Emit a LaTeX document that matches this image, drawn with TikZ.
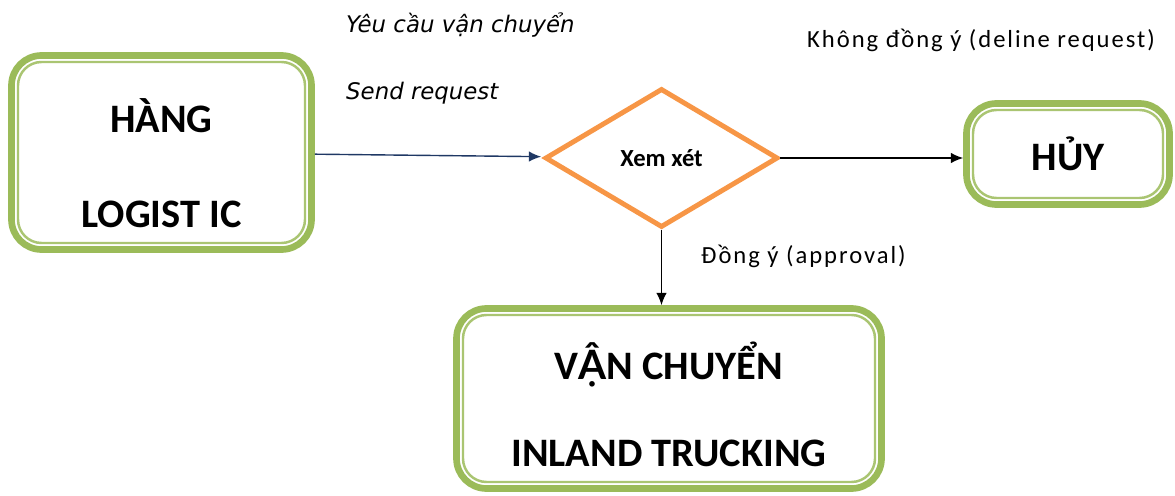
\documentclass[tikz,border=0pt]{standalone}
\usepackage{fontspec}
\setmainfont{Carlito}
\newfontfamily\notefont{DejaVu Sans}
\newfontfamily\answerfont[LetterSpace=8]{Carlito}
\newfontfamily\accentfont{Lato}
\usetikzlibrary{arrows.meta,calc,positioning,shapes.geometric}
\definecolor{boxgreen}{RGB}{155,187,89}
\definecolor{checkorange}{RGB}{247,150,70}
\definecolor{linknavy}{RGB}{31,56,100}
\newcommand{\lineup}[1]{\rule{0pt}{#1}}
\tikzset{%
	stage/.style      = {draw=boxgreen, line width=3.8pt, outer sep=0pt, rounded corners=0.6cm, fill=white, align=center, font=\fontsize{23}{28}\selectfont\bfseries},
	stageinner/.style = {draw=boxgreen!85, line width=1.4pt, rounded corners=0.47cm}, % inner ring
	check/.style      = {draw=checkorange, diamond, line width=2.8pt, inner sep=0pt, minimum width=4.66cm, minimum height=2.78cm, font=\fontsize{14}{16}\selectfont\bfseries},
	arrow/.style      = {-{Latex[length=7pt,width=6pt]}, line width=0.8pt},
	note/.style       = {font=\notefont\itshape\fontsize{13}{15}\selectfont}, % italic label
	answer/.style     = {font=\answerfont\fontsize{14}{16}\selectfont},
}

\begin{document}
\begin{tikzpicture}
	\useasboundingbox (0,0) rectangle (23.5,9.9);
	\node[stage, minimum width=6.0cm, minimum height=3.88cm] (logi) at (3.23,6.85) {\lineup{31pt}HÀNG\\[26pt]LOGIST IC};
	\node[check] (dia) at (13.23,6.74) {Xem xét};
	\node[stage, minimum width=4.06cm, minimum height=2.02cm] (huy) at (21.36,6.82) {HỦY};
	\node[stage, minimum width=8.5cm, minimum height=3.6cm] (trans) at (13.38,1.93) {\lineup{28pt}V{\accentfont Ậ}N CHUYỂN\\[22pt]INLAND TRUCKING};
	\foreach \n in {logi,huy,trans}
		\draw[stageinner] ([shift={(0.13,-0.13)}]\n.north west) rectangle ([shift={(-0.13,0.13)}]\n.south east);
	
	\draw[arrow, linknavy, shorten <=1.9pt, shorten >=2pt] (logi) -- (dia);
	\draw[arrow, shorten >=1.9pt] (dia.east) -- (dia.east -| huy.west);
	\draw[arrow, shorten >=1.9pt] (dia.south) -- (dia.south |- trans.north);
	
	\node[note, anchor=base west] (ask) at (6.8,9.24) {Yêu cầu vận chuyển};
	\node[note, anchor=base west] (send) at (6.8,7.9) {Send request};
	\node[answer, anchor=base] (deny) at (19.62,8.94) {Không đồng ý (deline request)};
	\node[answer, anchor=base west] (agree) at (13.9,4.62) {Đồng ý (approval)};
\end{tikzpicture}
\end{document}
